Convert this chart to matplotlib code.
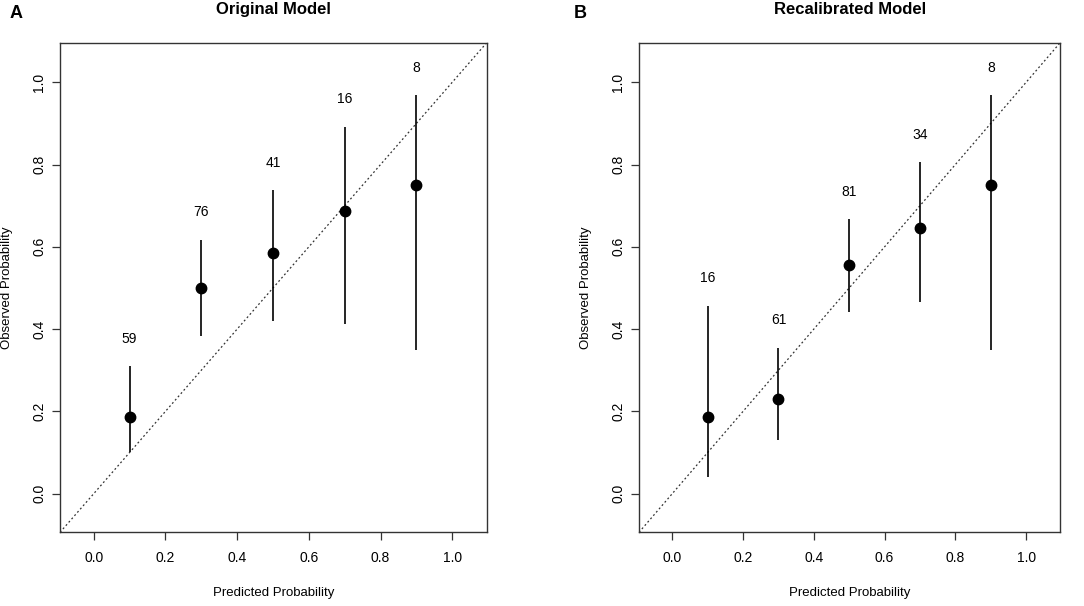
import numpy as np
import matplotlib.pyplot as plt

plt.rcParams['font.family'] = ['Liberation Sans', 'DejaVu Sans']

pred = [0.1, 0.3, 0.5, 0.7, 0.9]

# panel A: original model
orig_obs = [0.187, 0.500, 0.585, 0.687, 0.749]
orig_low = [0.100, 0.383, 0.419, 0.413, 0.348]
orig_high = [0.310, 0.617, 0.737, 0.891, 0.968]
orig_n = [59, 76, 41, 16, 8]

# panel B: recalibrated model
recal_obs = [0.187, 0.229, 0.555, 0.646, 0.749]
recal_low = [0.040, 0.131, 0.441, 0.465, 0.348]
recal_high = [0.457, 0.355, 0.667, 0.805, 0.968]
recal_n = [16, 61, 81, 34, 8]

ticks = [0.0, 0.2, 0.4, 0.6, 0.8, 1.0]
lim = (-0.094, 1.096)

fig = plt.figure(figsize=(10.84, 6.06), dpi=100)
axA = fig.add_axes([0.0554, 0.1216, 0.3936, 0.8079])
axB = fig.add_axes([0.5895, 0.1216, 0.3885, 0.8079])


def panel(ax, obs, low, high, n, title, letter, lx):
    ax.plot(lim, lim, ls=(0, (1.5, 2)), color='#333333', lw=0.9)
    ax.vlines(pred, low, high, color='black', lw=1.2)
    ax.plot(pred, obs, 'o', color='black', ms=7.5)
    for x, h, c in zip(pred, high, n):
        ax.text(x, h + 0.067, str(c), ha='center', va='center', fontsize=10)
    ax.set_xlim(lim)
    ax.set_ylim(lim)
    ax.set_xticks(ticks)
    ax.set_yticks(ticks)
    ax.set_xticklabels([f'{t:.1f}' for t in ticks])
    ax.set_yticklabels([f'{t:.1f}' for t in ticks], rotation=90, va='center')
    ax.tick_params(length=5.5, width=0.9, labelsize=10, color='#333333')
    ax.tick_params(axis='x', pad=8)
    ax.tick_params(axis='y', pad=4.5)
    for s in ax.spines.values():
        s.set_linewidth(1.0)
        s.set_color('#333333')
    ax.set_xlabel('Predicted Probability', fontsize=9.5)
    ax.set_ylabel('Observed Probability', fontsize=9.5)
    ax.xaxis.set_label_coords(0.5, -0.112)
    ax.yaxis.set_label_coords(-0.111, 0.5)
    bb = ax.get_position()
    fig.text((bb.x0 + bb.x1) / 2, 0.984, title, fontsize=12, fontweight='bold',
             ha='center', va='center')
    fig.text(lx, 0.978, letter, fontsize=13, fontweight='bold', ha='center', va='center')


panel(axA, orig_obs, orig_low, orig_high, orig_n, 'Original Model', 'A', 0.0145)
panel(axB, recal_obs, recal_low, recal_high, recal_n, 'Recalibrated Model', 'B', 0.535)

fig.savefig('out.png', dpi=100)
